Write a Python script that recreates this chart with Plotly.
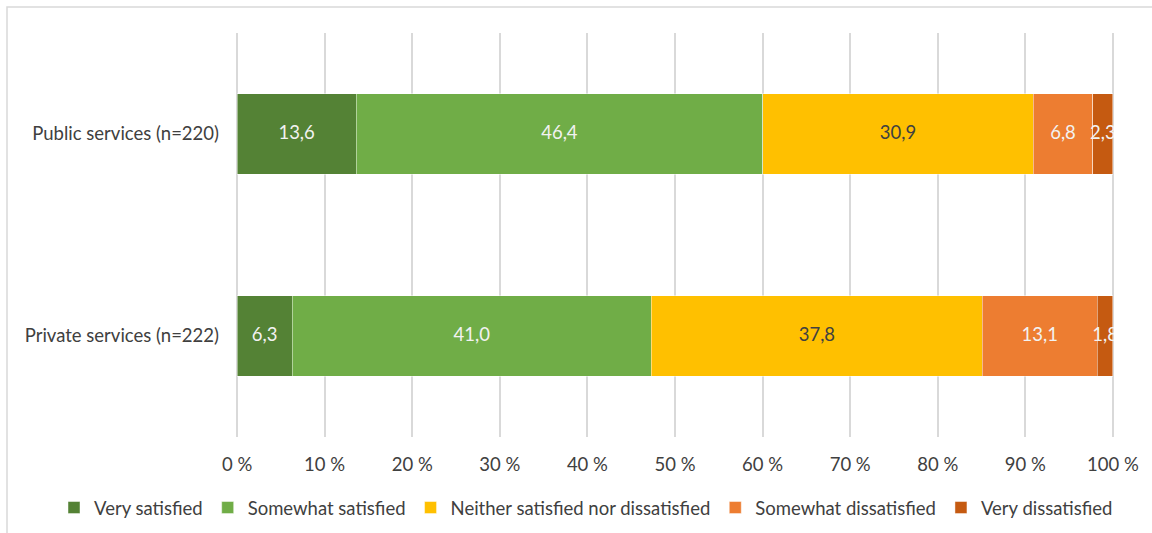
import plotly.graph_objects as go

categories = ["Private services (n=222)", "Public services (n=220)"]
series_names = ["Very satisfied", "Somewhat satisfied", "Neither satisfied nor dissatisfied",
                "Somewhat dissatisfied", "Very dissatisfied"]
very_satisfied = [6.3, 13.6]
somewhat_satisfied = [41.0, 46.4]
neither = [37.8, 30.9]
somewhat_dissatisfied = [13.1, 6.8]
very_dissatisfied = [1.8, 2.3]
tick_values = [0, 10, 20, 30, 40, 50, 60, 70, 80, 90, 100]
tick_labels = ["0 %", "10 %", "20 %", "30 %", "40 %", "50 %", "60 %", "70 %", "80 %", "90 %", "100 %"]

series_values = [very_satisfied, somewhat_satisfied, neither, somewhat_dissatisfied, very_dissatisfied]
colors = ["#548235", "#70AD47", "#FFC000", "#ED7D31", "#C55A11"]
label_colors = ["#F2F2F2", "#F2F2F2", "#404040", "#F2F2F2", "#F2F2F2"]
FONT = "Lato"
FS = 18.5

W, H = 1152, 533
L, R, T, B = 236, 1114, 33, 437
PW, PH = R - L, B - T

fig = go.Figure()
cum = [0.0, 0.0]
for name, vals, col, lcol in zip(series_names, series_values, colors, label_colors):
    fig.add_trace(go.Bar(
        y=categories, x=vals, name=name, orientation="h",
        marker=dict(color=col, line=dict(color="rgba(255,255,255,0.6)", width=0.75)),
        width=0.4, hoverinfo="skip", textposition="none",
    ))
    mids = [c + v / 2 for c, v in zip(cum, vals)]
    fig.add_trace(go.Scatter(
        y=categories, x=mids, mode="text",
        text=[f"{v:.1f}".replace(".", ",") for v in vals],
        textfont=dict(family=FONT, size=FS, color=lcol),
        textposition="middle center", showlegend=False, hoverinfo="skip",
        cliponaxis=True,
    ))
    cum = [c + v for c, v in zip(cum, vals)]

fig.update_layout(
    barmode="stack",
    width=W, height=H,
    margin=dict(l=L, r=W - R, t=T, b=H - B, autoexpand=False),
    paper_bgcolor="white", plot_bgcolor="white",
    font=dict(family=FONT, size=FS, color="#595959"),
    legend=dict(orientation="h", x=(54 - L) / PW, xanchor="left",
                y=-(489 - B) / PH, yanchor="top",
                bgcolor="rgba(0,0,0,0)",
                font=dict(family=FONT, size=FS, color="#404040"), traceorder="normal",
                itemwidth=30, tracegroupgap=0),
    shapes=[dict(type="rect", xref="paper", yref="paper",
                 x0=(7 - L) / PW, x1=(1170 - L) / PW,
                 y0=-(560 - B) / PH, y1=(B - 7) / PH,
                 line=dict(color="#D9D9D9", width=1.5), fillcolor="rgba(0,0,0,0)", layer="below")],
)
fig.update_xaxes(range=[-0.12, 100.12], tickvals=tick_values, ticktext=tick_labels,
                 showgrid=True, gridcolor="#D9D9D9", gridwidth=1.5, zeroline=False,
                 showline=False, ticks="", ticklabelstandoff=14,
                 tickfont=dict(family=FONT, size=FS, color="#404040"))
fig.update_yaxes(categoryorder="array", categoryarray=categories, range=[-0.5, 1.5],
                 showgrid=False, zeroline=False, showline=False, ticks="",
                 ticklabelstandoff=16,
                 tickfont=dict(family=FONT, size=FS, color="#404040"))

fig.write_html("out.html")
